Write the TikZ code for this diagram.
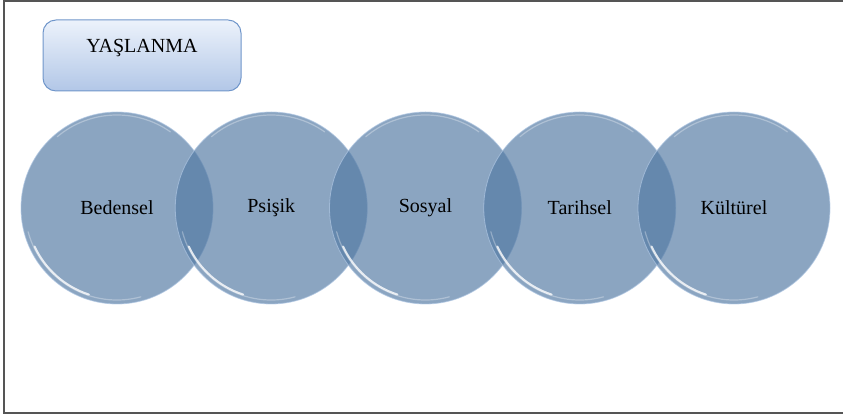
\documentclass[tikz,border=0pt]{standalone}
\usepackage{fontspec}
\setmainfont{Liberation Serif}
\usepackage{tikz}
\usetikzlibrary{shapes,positioning,calc}
\definecolor{kureblue}{RGB}{82,121,163}
\definecolor{kurerim}{RGB}{175,198,226}
\definecolor{kutuust}{RGB}{236,242,251}
\definecolor{kutualt}{RGB}{178,199,231}
\definecolor{kutukenar}{RGB}{112,150,202}
\definecolor{cerceve}{RGB}{85,85,85}
\newcommand{\etiketfont}{\fontsize{20}{23}\selectfont}
\tikzset{
    kure/.style={circle, minimum size=192pt, inner sep=0pt, fill=kureblue, fill opacity=0.67, text opacity=1, draw=kurerim, draw opacity=0.7, line width=0.8pt, font=\etiketfont},
    baslik/.style={rectangle, rounded corners=13pt, minimum width=198pt, minimum height=71pt, inner sep=0pt, top color=kutuust, bottom color=kutualt, draw=kutukenar, line width=1pt, font=\etiketfont, text height=13.5pt, text depth=19pt},
    parlak/.style={white, line width=2pt, line cap=round, opacity=0.8},
    sonuk/.style={white, line width=1.2pt, line cap=round, opacity=0.3},
    cizgi/.style={cerceve, line width=2pt},
}
\begin{document}
\begin{tikzpicture}[x=1pt, y=1pt]
    \useasboundingbox (0,0) rectangle (843,419);

    % Frame
    \draw[cizgi] (845,417.5) -- (4,417.5) -- (4,6) -- (845,6);

    % Title box
    \node[baslik] (Y) at (142,363.5) {YAŞLANMA};

    % Circles
    \node[kure] (B) at (117,211) {Bedensel};
    \draw[parlak] ($(B.center)+(205:91)$) arc[start angle=205, end angle=252, radius=91];
    \draw[sonuk] ($(B.center)+(195:92)$) arc[start angle=195, end angle=285, radius=92];
    \draw[sonuk] ($(B.center)+(55:93)$) arc[start angle=55, end angle=130, radius=93];

    \node[kure] (P) at (271.25,211) {Psişik};
    \draw[parlak] ($(P.center)+(205:91)$) arc[start angle=205, end angle=252, radius=91];
    \draw[sonuk] ($(P.center)+(195:92)$) arc[start angle=195, end angle=285, radius=92];
    \draw[sonuk] ($(P.center)+(55:93)$) arc[start angle=55, end angle=130, radius=93];

    \node[kure] (S) at (425.5,211) {Sosyal};
    \draw[parlak] ($(S.center)+(205:91)$) arc[start angle=205, end angle=252, radius=91];
    \draw[sonuk] ($(S.center)+(195:92)$) arc[start angle=195, end angle=285, radius=92];
    \draw[sonuk] ($(S.center)+(55:93)$) arc[start angle=55, end angle=130, radius=93];

    \node[kure] (T) at (579.75,211) {Tarihsel};
    \draw[parlak] ($(T.center)+(205:91)$) arc[start angle=205, end angle=252, radius=91];
    \draw[sonuk] ($(T.center)+(195:92)$) arc[start angle=195, end angle=285, radius=92];
    \draw[sonuk] ($(T.center)+(55:93)$) arc[start angle=55, end angle=130, radius=93];

    \node[kure] (K) at (734,211) {Kültürel};
    \draw[parlak] ($(K.center)+(205:91)$) arc[start angle=205, end angle=252, radius=91];
    \draw[sonuk] ($(K.center)+(195:92)$) arc[start angle=195, end angle=285, radius=92];
    \draw[sonuk] ($(K.center)+(55:93)$) arc[start angle=55, end angle=130, radius=93];
\end{tikzpicture}
\end{document}
